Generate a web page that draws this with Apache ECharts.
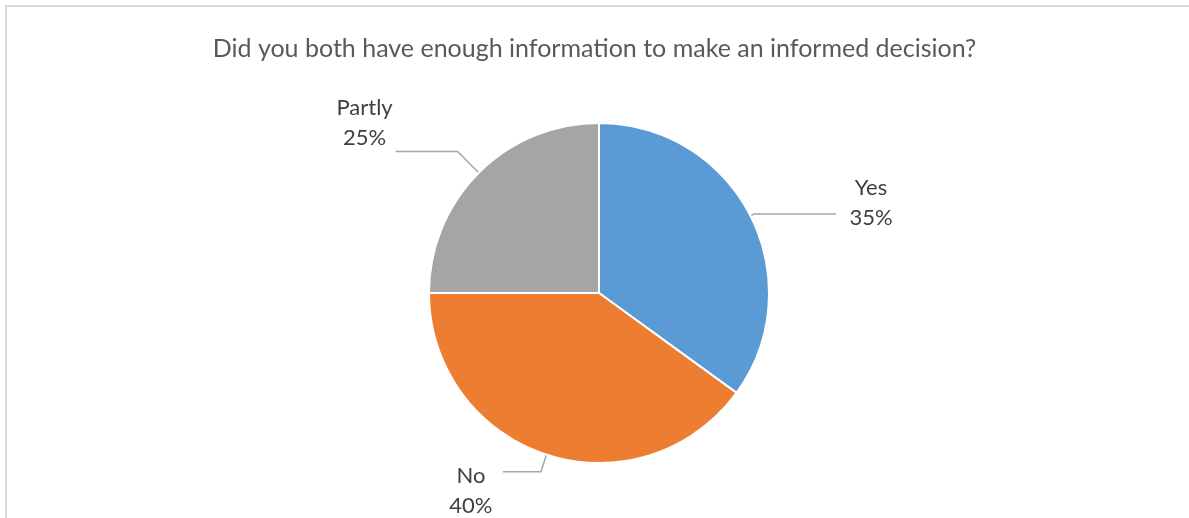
<!DOCTYPE html>
<html>
<head>
<meta charset="utf-8">
<script src="https://cdn.jsdelivr.net/npm/echarts@6/dist/echarts.min.js"></script>
<style>
  html, body { margin: 0; padding: 0; background: #ffffff; }
  #chart { width: 1189px; height: 518px; }
</style>
</head>
<body>
<div id="chart"></div>
<script>
// Survey answers and their shares (percent)
const titleText = 'Did you both have enough information to make an informed decision?';
const answers = ['Yes', 'No', 'Partly'];
const shares = [35, 40, 25];
const sliceColors = ['#5B9BD5', '#ED7D31', '#A5A5A5'];
// leader line lengths per slice: [radial part, horizontal part]
const leaderLengths = [[4, 82], [18, 38], [30, 62]];
// label offset from the end of its leader line: [dx, dy]
const labelNudges = [[0, -11], [3, 19], [4, -29]];

const FONT = 'Lato, "Open Sans", sans-serif';

const chart = echarts.init(document.getElementById('chart'), null, { renderer: 'canvas' });

const pieData = answers.map((name, i) => ({
  name: name,
  value: shares[i],
  itemStyle: { color: sliceColors[i] },
  labelLine: { length: leaderLengths[i][0], length2: leaderLengths[i][1] }
}));

const labelText = { color: '#404040', fontSize: 22, lineHeight: 30, fontFamily: FONT, width: 62, align: 'center' };

chart.setOption({
  animation: false,
  backgroundColor: '#ffffff',
  title: {
    text: titleText,
    left: 'center',
    top: 31,
    textStyle: {
      color: '#595959',
      fontSize: 25,
      fontWeight: 'normal',
      fontFamily: FONT
    }
  },
  graphic: [{
    type: 'rect',
    silent: true,
    shape: { x: 6, y: 6, width: 1240, height: 600 },
    style: { fill: 'none', stroke: '#d9d9d9', lineWidth: 2 }
  }],
  series: [{
    type: 'pie',
    center: [599, 293],
    radius: [0, 170],
    startAngle: 90,
    clockwise: true,
    avoidLabelOverlap: false,
    itemStyle: { borderColor: '#ffffff', borderWidth: 2 },
    label: {
      show: true,
      position: 'outside',
      formatter: '{t|{b}}\n{t|{d}%}',
      color: '#404040',
      fontSize: 22,
      lineHeight: 30,
      fontFamily: FONT,
      distanceToLabelLine: 4,
      rich: { t: labelText }
    },
    labelLine: {
      show: true,
      lineStyle: { color: '#a6a6a6', width: 1.5 }
    },
    labelLayout: function (params) {
      const n = labelNudges[params.dataIndex];
      return { dx: n[0], dy: n[1], labelLinePoints: params.labelLinePoints };
    },
    emphasis: { disabled: true },
    data: pieData
  }]
});
</script>
</body>
</html>
